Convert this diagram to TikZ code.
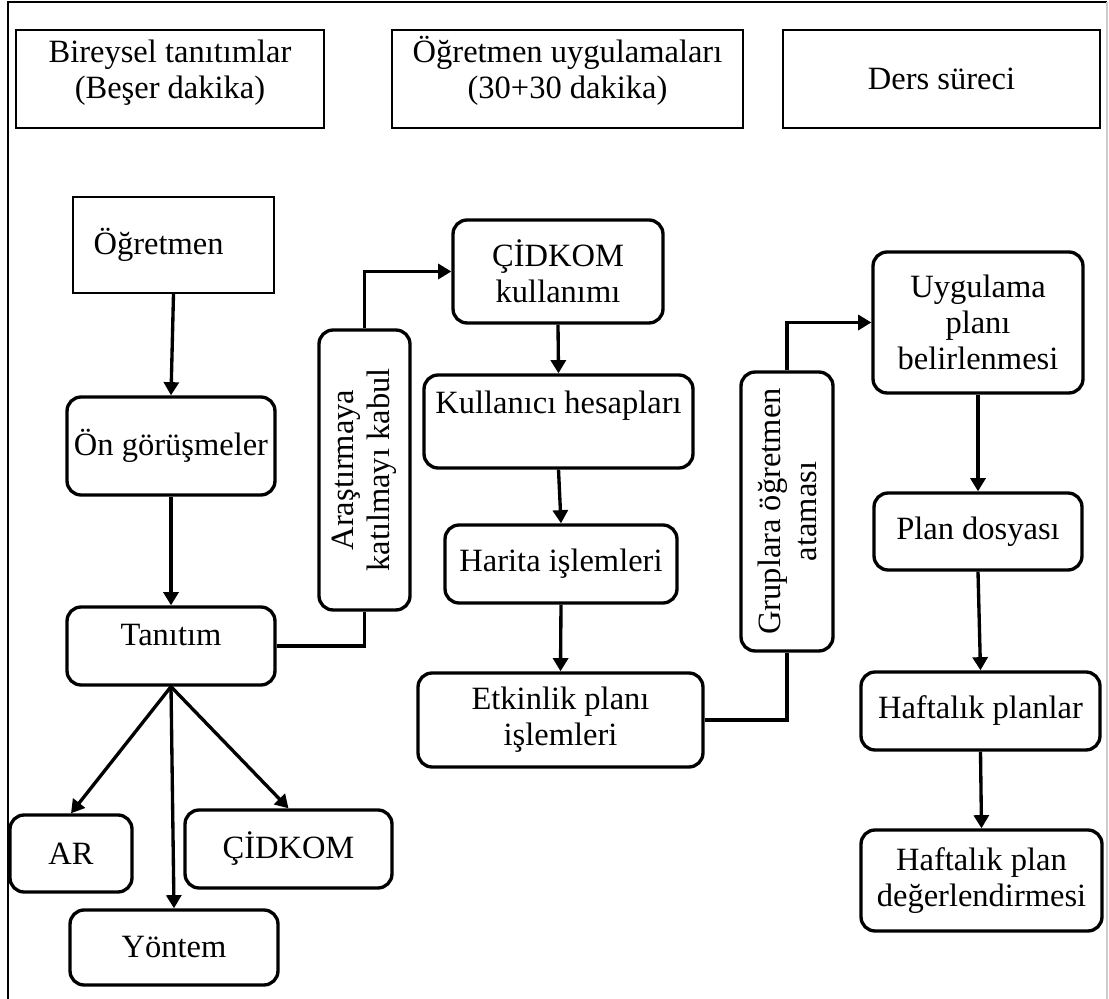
\documentclass[tikz,border=0pt]{standalone}
\usepackage{fontspec}
\setmainfont{Liberation Serif}
\usetikzlibrary{arrows.meta}

\begin{document}
\begin{tikzpicture}[x=0.02cm, y=-0.02cm, >={Triangle[length=7.5pt,width=8.5pt]}, font=\fontsize{18.5}{20.5}\selectfont]
\tikzstyle{baslik}=[draw, line width=0.9pt, align=center]
\tikzstyle{kutu}=[draw, rounded corners=8pt, line width=1.9pt, align=center]
\tikzstyle{ok}=[->, line width=1.9pt]
\tikzstyle{hat}=[line width=1.9pt]
\useasboundingbox (0,0) rectangle (1109,999);
% cerceve
\draw[line width=1pt] (8,999) -- (8,2) -- (1107,2);
\draw[gray!40, line width=0.8pt] (1107,2) -- (1107,999);
% ust basliklar
\node[baslik, minimum width=6.16cm, minimum height=1.96cm, text depth=11pt] (bt) at (170,79)   {Bireysel tanıtımlar\\(Beşer dakika)};
\node[baslik, minimum width=7.02cm, minimum height=1.96cm, text depth=13pt] (ou) at (567.5,79) {Öğretmen uygulamaları\\(30+30 dakika)};
\node[baslik, minimum width=6.34cm, minimum height=1.96cm]                  (ds) at (941.5,79) {Ders süreci};
% sol sutun
\node[draw, line width=0.9pt, minimum width=4.02cm, minimum height=1.92cm] (og)  at (173.5,245) {Öğretmen\kern17pt};
\node[kutu, minimum width=4.16cm, minimum height=1.96cm]                  (ong) at (171,446)   {Ön görüşmeler};
\node[kutu, minimum width=4.16cm, minimum height=1.56cm, text depth=13pt] (tan) at (171,646)   {Tanıtım};
\node[kutu, minimum width=2.44cm, minimum height=1.54cm]                  (ar)  at (71,853.5)  {AR};
\node[kutu, minimum width=4.16cm, minimum height=1.50cm]                  (yo)  at (174,947.5) {Yöntem};
\node[kutu, minimum width=4.14cm, minimum height=1.56cm]                  (cd)  at (288.5,849) {ÇİDKOM};
\node[kutu, rotate=90, minimum width=5.60cm, minimum height=1.82cm]       (ara) at (364.5,470) {Araştırmaya\\katılmayı kabul};
% orta sutun
\node[kutu, minimum width=4.20cm, minimum height=2.06cm]                  (ck)  at (558,271.5)   {ÇİDKOM\\kullanımı};
\node[kutu, minimum width=5.38cm, minimum height=1.86cm, text depth=22pt] (kh)  at (558.5,421.5) {Kullanıcı hesapları};
\node[kutu, minimum width=4.64cm, minimum height=1.56cm]                  (hi)  at (561,564)     {Harita işlemleri};
\node[kutu, minimum width=5.70cm, minimum height=1.88cm]                  (ep)  at (560.5,720)   {Etkinlik planı\\işlemleri};
\node[kutu, rotate=90, minimum width=5.58cm, minimum height=1.84cm]       (gr)  at (787,511.5)   {Gruplara öğretmen\\ataması};
% sag sutun
\node[kutu, minimum width=4.20cm, minimum height=2.82cm] (up) at (978,322.5)   {Uygulama\\planı\\belirlenmesi};
\node[kutu, minimum width=4.16cm, minimum height=1.54cm] (pd) at (978,531.5)   {Plan dosyası};
\node[kutu, minimum width=4.78cm, minimum height=1.56cm] (hp) at (980.5,711)   {Haftalık planlar};
\node[kutu, minimum width=4.82cm, minimum height=2.02cm] (hd) at (981.5,880.5) {Haftalık plan\\değerlendirmesi};
% oklar
\draw[ok] (og.south)  -- (ong.north);
\draw[ok] (ong.south) -- (tan.north);
\draw[ok] (tan.south) -- (ar.north);
\draw[ok] (tan.south) -- (yo.north);
\draw[ok] (tan.south) -- (cd.north);
\draw[hat] (tan.east) -| (ara.west);
\draw[ok] (ara.east)  |- (ck.west);
\draw[ok] (ck.south)  -- (kh.north);
\draw[ok] (kh.south)  -- (hi.north);
\draw[ok] (hi.south)  -- (ep.north);
\draw[hat] (ep.east)  -| (gr.west);
\draw[ok] (gr.east)   |- (up.west);
\draw[ok] (up.south)  -- (pd.north);
\draw[ok] (pd.south)  -- (hp.north);
\draw[ok] (hp.south)  -- (hd.north);
\end{tikzpicture}
\end{document}
